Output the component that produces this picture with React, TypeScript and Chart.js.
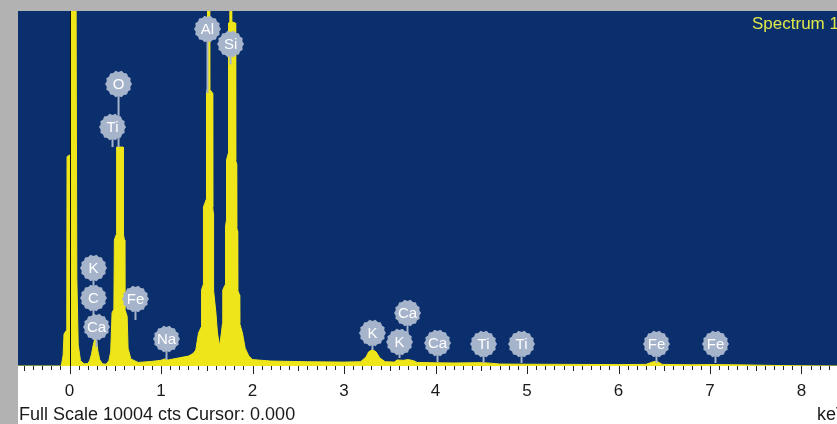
import React, { useEffect, useRef } from "react";
import { Chart, registerables } from "chart.js";

Chart.register(...registerables);

// Spectrum (energy in keV, counts)
const energies = [
  -0.563, -0.09, -0.07, -0.06, -0.035, -0.03, -0.027, 0.005, 0.012, 0.018, 0.068, 0.08, 0.095, 0.12, 0.16,
  0.2, 0.22, 0.24, 0.26, 0.28, 0.295, 0.31, 0.33, 0.36, 0.4,
  0.43, 0.45, 0.465, 0.485, 0.49, 0.51, 0.515, 0.585, 0.59, 0.6, 0.605, 0.63, 0.64, 0.67,
  0.75, 0.9, 1.0, 1.04, 1.08, 1.2, 1.3, 1.35, 1.38,
  1.41, 1.44, 1.443, 1.462, 1.464, 1.495, 1.497, 1.505, 1.508, 1.528, 1.532, 1.563, 1.565, 1.572, 1.574, 1.6, 1.617, 1.64,
  1.66, 1.672, 1.675, 1.703, 1.705, 1.714, 1.716, 1.736, 1.738, 1.752, 1.755, 1.77, 1.772, 1.814, 1.816, 1.825, 1.827,
  1.836, 1.838, 1.858, 1.86, 1.89, 1.92, 1.96, 2.0, 2.2, 2.6, 3.0,
  3.18, 3.24, 3.27, 3.31, 3.35, 3.39, 3.45, 3.55, 3.58, 3.65, 3.7, 3.76, 3.8,
  4.0, 4.2, 4.5, 4.6, 4.7, 5.0, 5.5, 6.0, 6.3, 6.38, 6.42, 6.48, 6.8, 7.06, 7.4, 7.7, 8.0, 8.388,
];
const counts = [
  0, 0, 300, 900, 1000, 1200, 5900, 5950, 3000, 14000, 14000, 2500, 600, 150, 60,
  70, 150, 330, 600, 790, 720, 420, 180, 60, 50,
  150, 400, 1500, 1600, 3550, 3700, 6170, 6170, 3700, 3550, 1600, 1400, 500, 200,
  100, 130, 160, 200, 170, 230, 280, 350, 450,
  930, 1100, 2140, 2300, 4480, 4700, 7690, 7800, 12000, 12000, 7800, 7690, 4480, 4300, 2140, 1500, 930, 560,
  930, 1200, 2142, 2300, 3917, 4100, 5805, 6000, 9666, 9700, 12000, 12000, 9700, 9666, 5805, 5700, 3917,
  3800, 2142, 2000, 1200, 930, 500, 280, 180, 140, 120, 110,
  120, 250, 400, 460, 400, 230, 120, 110, 170, 160, 180, 150, 100,
  90, 85, 95, 80, 55, 50, 45, 40, 45, 120, 130, 45, 35, 40, 30, 15, 5, 0,
];

const tickValues = [0, 1, 2, 3, 4, 5, 6, 7, 8];

// Element markers
const labelNames = ["Al", "Si", "O", "Ti", "K", "C", "Ca", "Fe", "Na", "K", "Ca", "K", "Ca", "Ti", "Ti", "Fe", "Fe"];
const labelEnergies = [1.508, 1.76, 0.536, 0.47, 0.262, 0.262, 0.295, 0.721, 1.06, 3.311, 3.694, 3.607, 4.022, 4.525, 4.94, 6.415, 7.06];
const labelLevels = [9497, 9074, 7947, 6735, 2762, 1916, 1099, 1888, 761, 930, 1494, 676, 648, 620, 620, 620, 620];
const stemLevels = [7690, 8500, 6170, 6170, 1916, 1099, 530, 1296, 170, 450, 676, 225, 113, 85, 85, 85, 85];

const FULL_SCALE = 10004;
const X_MIN = -0.563;
const X_MAX = 8.388;
const CURSOR = 0.0;

const GRAY = "#b2b2b2";
const BLUE = "#0b2f6d";
const YELLOW = "#efe61a";
const BADGE = "#a5b3cb";
const FONT = "'Liberation Sans', Arial, sans-serif";

const framePlugin = {
  id: "frame",
  beforeDraw(chart: any) {
    const { ctx, chartArea, width, height } = chart;
    ctx.save();
    ctx.fillStyle = GRAY;
    ctx.fillRect(0, 0, width, height);
    ctx.fillStyle = "#ffffff";
    ctx.fillRect(chartArea.left, chartArea.bottom, width - chartArea.left, height - chartArea.bottom);
    ctx.fillStyle = BLUE;
    ctx.fillRect(chartArea.left, chartArea.top, chartArea.right - chartArea.left, chartArea.bottom - chartArea.top);
    ctx.restore();
  },
  afterDatasetsDraw(chart: any) {
    const { ctx, chartArea, scales } = chart;
    const xs = scales.x;
    const ys = scales.y;
    ctx.save();
    // cursor
    const cx = Math.round(xs.getPixelForValue(CURSOR)) + 0.5;
    ctx.strokeStyle = "#111111";
    ctx.lineWidth = 1;
    ctx.beginPath();
    ctx.moveTo(cx, chartArea.top);
    ctx.lineTo(cx, chartArea.bottom);
    ctx.stroke();

    // stems
    ctx.strokeStyle = BADGE;
    ctx.lineWidth = 2;
    for (let i = 0; i < labelNames.length; i++) {
      const px = xs.getPixelForValue(labelEnergies[i]);
      ctx.beginPath();
      ctx.moveTo(px, ys.getPixelForValue(labelLevels[i]));
      ctx.lineTo(px, ys.getPixelForValue(stemLevels[i]));
      ctx.stroke();
    }
    // badges
    const r = 12.8;
    const n = 28;
    for (let i = 0; i < labelNames.length; i++) {
      const px = xs.getPixelForValue(labelEnergies[i]);
      const py = ys.getPixelForValue(labelLevels[i]);
      ctx.beginPath();
      for (let k = 0; k <= n; k++) {
        const a = (k / n) * Math.PI * 2;
        const rr = r + (k % 2 === 0 ? 0.7 : -0.7);
        const x = px + Math.cos(a) * rr;
        const y = py + Math.sin(a) * rr;
        if (k === 0) ctx.moveTo(x, y);
        else ctx.lineTo(x, y);
      }
      ctx.closePath();
      ctx.fillStyle = BADGE;
      ctx.fill();
      ctx.fillStyle = "#ffffff";
      ctx.font = `15px ${FONT}`;
      ctx.textAlign = "center";
      ctx.textBaseline = "middle";
      ctx.fillText(labelNames[i], px, py + 1);
    }

    // spectrum name
    ctx.fillStyle = "#dfe84a";
    ctx.font = `17px ${FONT}`;
    ctx.textAlign = "left";
    ctx.textBaseline = "alphabetic";
    ctx.fillText("Spectrum 1", 752, 29);
    ctx.restore();
  },
  afterDraw(chart: any) {
    const { ctx, chartArea, scales } = chart;
    const xs = scales.x;
    ctx.save();
    const top = chartArea.bottom;
    ctx.strokeStyle = "#222222";
    ctx.lineWidth = 1;
    for (let t = Math.ceil(X_MIN * 10); t <= Math.floor(X_MAX * 10); t++) {
      const v = t / 10;
      const px = Math.round(xs.getPixelForValue(v)) + 0.5;
      let len = 4;
      if (t % 10 === 0) len = 8;
      else if (t % 5 === 0) len = 5;
      ctx.beginPath();
      ctx.moveTo(px, top);
      ctx.lineTo(px, top + len);
      ctx.stroke();
    }
    ctx.fillStyle = "#1a1a1a";
    ctx.font = `17px ${FONT}`;
    ctx.textAlign = "center";
    ctx.textBaseline = "alphabetic";
    for (const v of tickValues) {
      ctx.fillText(String(v), xs.getPixelForValue(v), 396);
    }
    ctx.font = `18px ${FONT}`;
    ctx.textAlign = "left";
    ctx.fillText("Full Scale 10004 cts Cursor: 0.000", 19, 420);
    ctx.fillText("keV", 817, 420);
    ctx.restore();
  },
};

export default function App() {
  const ref = useRef<HTMLCanvasElement | null>(null);
  useEffect(() => {
    if (!ref.current) return;
    const chart = new Chart(ref.current, {
      type: "line",
      data: {
        datasets: [
          {
            data: energies.map((e, i) => ({ x: e, y: counts[i] })),
            borderColor: YELLOW,
            backgroundColor: YELLOW,
            borderWidth: 1,
            fill: "origin",
            pointRadius: 0,
            tension: 0,
          },
        ],
      },
      options: {
        responsive: false,
        animation: false,
        layout: { padding: { left: 18, top: 11, right: 0, bottom: 58 } },
        scales: {
          x: { type: "linear", min: X_MIN, max: X_MAX, display: false },
          y: { min: 0, max: FULL_SCALE, display: false },
        },
        plugins: { legend: { display: false }, tooltip: { enabled: false } },
        events: [],
      },
      plugins: [framePlugin],
    } as any);
    return () => chart.destroy();
  }, []);
  return (
    <div style={{ position: "fixed", left: 0, top: 0, width: 837, height: 424 }}>
      <canvas ref={ref} width={837} height={424} style={{ display: "block" }} />
    </div>
  );
}
